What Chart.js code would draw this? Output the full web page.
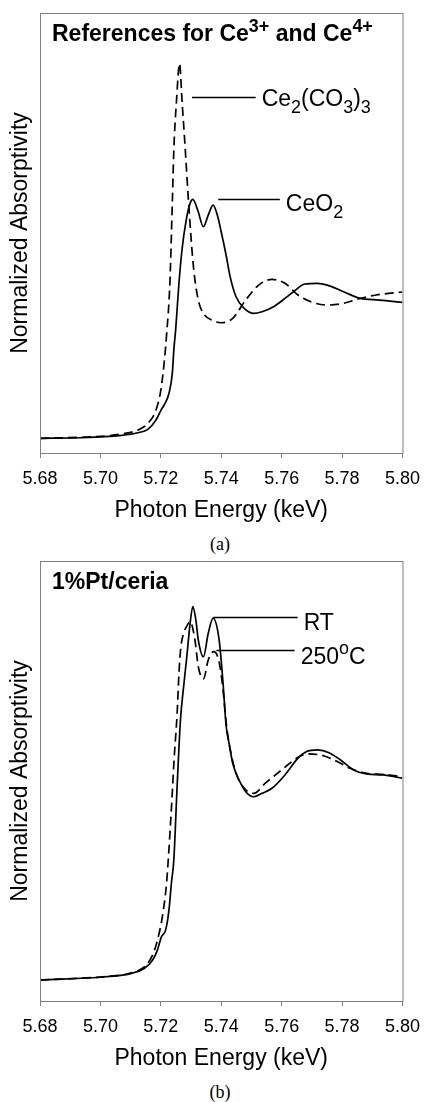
<!DOCTYPE html>
<html>
<head>
<meta charset="utf-8">
<script src="https://cdn.jsdelivr.net/npm/chart.js@4.4.1/dist/chart.umd.min.js"></script>
<style>
  body { margin: 0; background: #fff; width: 430px; height: 1102px; position: relative; overflow: hidden; }
  canvas { position: absolute; left: 0; }
  #chartA { top: 0; }
  #chartB { top: 548px; }
  .caption { position: absolute; left: 170px; width: 100px; text-align: center; line-height: 20px;
             font: 18px "Liberation Serif", "Times New Roman", serif; color: #000; }
</style>
</head>
<body>
<canvas id="chartA" width="430" height="524"></canvas>
<div class="caption" style="top:534px">(a)</div>
<canvas id="chartB" width="430" height="524"></canvas>
<div class="caption" style="top:1082px">(b)</div>
<script>
// x axis ticks (keV)
const energyTicks = [5.68, 5.70, 5.72, 5.74, 5.76, 5.78, 5.80];

//..(a) Ce2(CO3)3 reference, dashed
const energyCarbonate = [5.680, 5.693, 5.7016, 5.707, 5.7124, 5.7157, 5.7184, 5.720, 5.7211, 5.7219, 5.723, 5.7238, 5.7243, 5.7252, 5.7262, 5.727, 5.7281, 5.7292, 5.7308, 5.7324, 5.7341, 5.7373, 5.740, 5.7438, 5.7481, 5.7524, 5.7568, 5.7611, 5.7654, 5.7697, 5.7751, 5.7805, 5.786, 5.7913, 5.800];
const absCarbonate = [0.000, 0.007, 0.017, 0.032, 0.061, 0.110, 0.208, 0.355, 0.554, 0.760, 1.142, 1.730, 2.120, 2.488, 2.757, 2.488, 2.120, 1.730, 1.262, 1.017, 0.919, 0.865, 0.850, 0.882, 1.017, 1.127, 1.169, 1.140, 1.054, 1.004, 0.980, 0.993, 1.029, 1.054, 1.076];

//..(a) CeO2 reference, solid
const energyCeO2 = [5.680, 5.693, 5.707, 5.7124, 5.7157, 5.7184, 5.7202, 5.7211, 5.7227, 5.7238, 5.7243, 5.7249, 5.726, 5.727, 5.7284, 5.7297, 5.7306, 5.7322, 5.7341, 5.7357, 5.7373, 5.7387, 5.740, 5.7416, 5.7429, 5.7449, 5.7476, 5.7508, 5.7535, 5.7573, 5.7611, 5.7643, 5.7676, 5.7719, 5.7751, 5.7805, 5.786, 5.7924, 5.800];
const absCeO2 = [0.000, 0.004, 0.022, 0.041, 0.066, 0.135, 0.213, 0.245, 0.331, 0.478, 0.649, 0.796, 1.140, 1.385, 1.605, 1.728, 1.757, 1.679, 1.556, 1.642, 1.715, 1.642, 1.517, 1.348, 1.193, 1.041, 0.956, 0.919, 0.931, 0.968, 1.029, 1.085, 1.135, 1.140, 1.127, 1.078, 1.029, 1.017, 1.000];

//..(b) 1%Pt/ceria at RT, solid
const energyRT = [5.680, 5.7016, 5.7103, 5.7146, 5.7173, 5.7189, 5.7202, 5.7216, 5.7227, 5.7235, 5.7243, 5.7254, 5.7265, 5.7276, 5.7286, 5.7297, 5.7306, 5.7316, 5.7324, 5.7341, 5.7357, 5.7373, 5.7393, 5.7406, 5.7416, 5.7427, 5.7438, 5.7459, 5.7481, 5.7508, 5.7535, 5.7568, 5.7611, 5.7654, 5.7681, 5.7719, 5.7757, 5.7795, 5.7838, 5.7881, 5.7935, 5.800];
const absRT = [0.000, 0.016, 0.033, 0.058, 0.099, 0.149, 0.214, 0.248, 0.347, 0.479, 0.594, 0.960, 1.287, 1.460, 1.600, 1.766, 1.848, 1.782, 1.683, 1.600, 1.716, 1.791, 1.683, 1.469, 1.262, 1.163, 1.073, 0.990, 0.932, 0.907, 0.924, 0.949, 1.015, 1.098, 1.130, 1.139, 1.125, 1.089, 1.040, 1.020, 1.015, 0.999];

//..(b) 1%Pt/ceria at 250 C, dashed
const energy250 = [5.680, 5.7016, 5.7103, 5.7146, 5.7173, 5.7189, 5.7205, 5.7219, 5.7225, 5.7235, 5.7244, 5.7254, 5.726, 5.7266, 5.7276, 5.7286, 5.7297, 5.7313, 5.7324, 5.7341, 5.7357, 5.7375, 5.7393, 5.7406, 5.7416, 5.7427, 5.7449, 5.7481, 5.7508, 5.7546, 5.760, 5.7654, 5.7686, 5.7741, 5.7784, 5.7827, 5.7881, 5.7935, 5.800];
const abs250 = [0.000, 0.017, 0.035, 0.066, 0.124, 0.198, 0.313, 0.479, 0.604, 0.848, 1.094, 1.320, 1.518, 1.644, 1.718, 1.752, 1.774, 1.683, 1.551, 1.490, 1.584, 1.625, 1.574, 1.436, 1.277, 1.163, 1.023, 0.941, 0.924, 0.974, 1.040, 1.102, 1.119, 1.109, 1.081, 1.048, 1.023, 1.018, 1.006];

Chart.defaults.font.family = '"Liberation Sans", Arial, sans-serif';
Chart.defaults.color = '#000';

function series(xs, ys, dashed) {
    return {
        data: xs.map((x, i) => ({ x: x, y: ys[i] })),
        borderColor: '#000',
        borderWidth: 1.7,
        borderDash: dashed ? [9, 5] : [],
        pointRadius: 0,
        cubicInterpolationMode: 'monotone',
        fill: false
    };
}

//..draws text runs with sub/superscripts, y is the cap middle
function drawRuns(ctx, runs, x, y, size, weight) {
    const base = y + size * 0.36;
    ctx.textBaseline = 'alphabetic';
    ctx.textAlign = 'left';
    runs.forEach(r => {
        const small = r.sub || r.sup;
        const s = small ? size * 0.78 : size;
        ctx.font = `${weight} ${s}px "Liberation Sans", Arial, sans-serif`;
        const dy = r.sub ? size * 0.33 : r.sup ? -size * 0.42 : 0;
        ctx.fillText(r.t, x, base + dy);
        x += ctx.measureText(r.t).width;
    });
}

//..frame box, panel title and leader-line labels
function framePlugin(title, notes) {
    return {
        id: 'frame',
        afterDraw(chart) {
            const { ctx, chartArea: a, scales: { x, y } } = chart;
            ctx.save();
            ctx.strokeStyle = '#808080';
            ctx.lineWidth = 1;
            ctx.setLineDash([]);
            ctx.strokeRect(a.left + 0.5, a.top + 0.5, a.width, a.height);
            ctx.fillStyle = '#000';
            drawRuns(ctx, title, a.left + 12, a.top + 20, 23, 'bold');
            ctx.strokeStyle = '#000';
            ctx.lineWidth = 1.4;
            notes.forEach(n => {
                const py = Math.round(y.getPixelForValue(n.y)) + 0.5;
                const x2 = x.getPixelForValue(n.x2);
                ctx.beginPath();
                ctx.moveTo(x.getPixelForValue(n.x1), py);
                ctx.lineTo(x2, py);
                ctx.stroke();
                drawRuns(ctx, n.runs, x2 + 6, py + n.dy, 23, 'normal');
            });
            ctx.restore();
        }
    };
}

function makeChart(id, datasets, yMin, yMax, title, notes) {
    return new Chart(document.getElementById(id), {
        type: 'line',
        data: { datasets },
        options: {
            responsive: false,
            animation: false,
            layout: { padding: { top: 13, right: 20, left: 0, bottom: 0 } },
            plugins: { legend: { display: false }, tooltip: { enabled: false } },
            scales: {
                x: {
                    type: 'linear',
                    min: energyTicks[0],
                    max: energyTicks[energyTicks.length - 1],
                    afterBuildTicks: s => { s.ticks = energyTicks.map(v => ({ value: v })); },
                    afterFit: s => { s.height = 71; },
                    ticks: { callback: v => v.toFixed(2), color: '#000', font: { size: 18 }, padding: 10, maxRotation: 0, autoSkip: false },
                    grid: { drawOnChartArea: false, drawTicks: true, tickLength: 5, color: '#808080' },
                    border: { display: false },
                    title: { display: true, text: 'Photon Energy (keV)', color: '#000', font: { size: 23 }, padding: { top: 0, bottom: 0 } }
                },
                y: {
                    min: yMin,
                    max: yMax,
                    afterFit: s => { s.width = 40; },
                    ticks: { display: false },
                    grid: { display: false },
                    border: { display: false },
                    title: { display: true, text: 'Normalized Absorptivity', color: '#000', font: { size: 23 }, padding: { top: 7, bottom: 0 } }
                }
            }
        },
        plugins: [framePlugin(title, notes)]
    });
}

makeChart('chartA',
    [series(energyCarbonate, absCarbonate, true), series(energyCeO2, absCeO2, false)],
    -0.108, 3.128,
    [{ t: 'References for Ce' }, { t: '3+', sup: true }, { t: ' and Ce' }, { t: '4+', sup: true }],
    [
        { runs: [{ t: 'Ce' }, { t: '2', sub: true }, { t: '(CO' }, { t: '3', sub: true }, { t: ')' }, { t: '3', sub: true }], x1: 5.7303, x2: 5.7514, y: 2.511, dy: 0 },
        { runs: [{ t: 'CeO' }, { t: '2', sub: true }], x1: 5.739, x2: 5.7594, y: 1.760, dy: 3 }
    ]);

makeChart('chartB',
    [series(energy250, abs250, true), series(energyRT, absRT, false)],
    -0.104, 2.074,
    [{ t: '1%Pt/ceria' }],
    [
        { runs: [{ t: 'RT' }], x1: 5.7374, x2: 5.7653, y: 1.799, dy: 4 },
        { runs: [{ t: '250' }, { t: 'o', sup: true }, { t: 'C' }], x1: 5.7384, x2: 5.7643, y: 1.634, dy: 5 }
    ]);
</script>
</body>
</html>
